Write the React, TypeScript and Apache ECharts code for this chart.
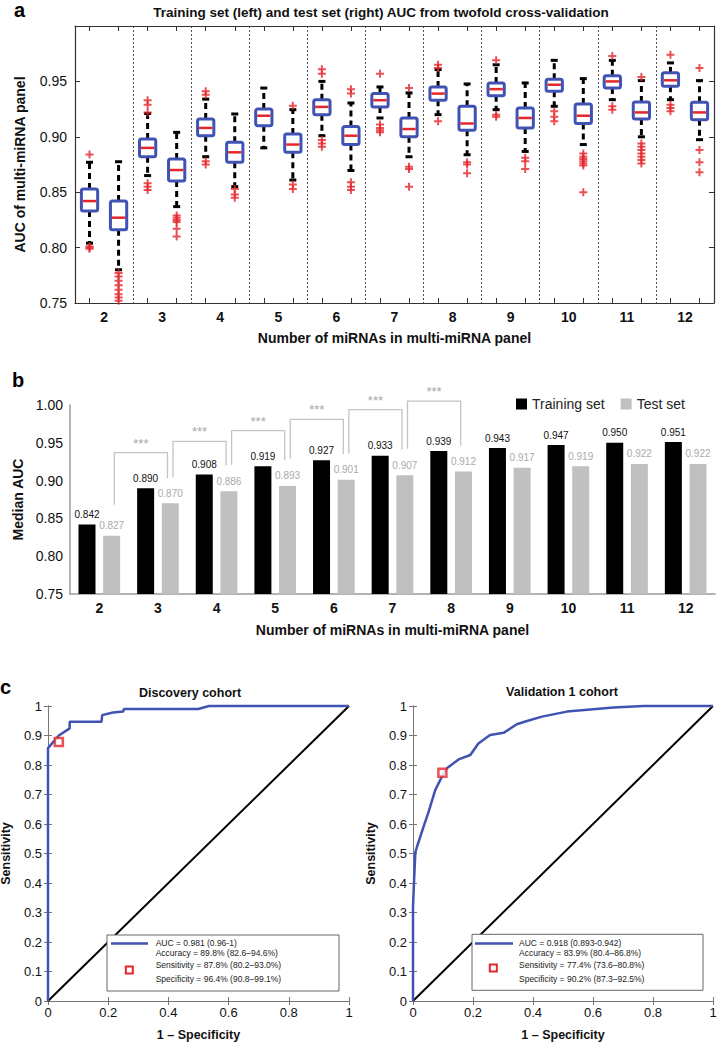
import React, { useEffect, useRef } from 'react';
import * as echarts from 'echarts';

const FONT = '"Liberation Sans", Arial, Helvetica, sans-serif';

// ---------- Panel a / b data ----------
const panelSizes = ['2', '3', '4', '5', '6', '7', '8', '9', '10', '11', '12'];
const trainMedians = [0.842, 0.890, 0.908, 0.919, 0.927, 0.933, 0.939, 0.943, 0.947, 0.950, 0.951];
const testMedians = [0.827, 0.870, 0.886, 0.893, 0.901, 0.907, 0.912, 0.917, 0.919, 0.922, 0.922];

// [lower whisker, Q1, Q3, upper whisker]
const trainBoxes = [
  [0.804, 0.833, 0.853, 0.877],
  [0.865, 0.882, 0.898, 0.921],
  [0.882, 0.901, 0.916, 0.934],
  [0.890, 0.910, 0.925, 0.944],
  [0.901, 0.920, 0.9335, 0.950],
  [0.917, 0.927, 0.939, 0.945],
  [0.920, 0.933, 0.945, 0.9607],
  [0.9245, 0.937, 0.9486, 0.965],
  [0.9275, 0.941, 0.952, 0.969],
  [0.9335, 0.944, 0.955, 0.969],
  [0.9335, 0.9456, 0.9577, 0.9667],
];
const testBoxes = [
  [0.780, 0.816, 0.842, 0.8775],
  [0.837, 0.860, 0.880, 0.904],
  [0.855, 0.877, 0.895, 0.9206],
  [0.861, 0.886, 0.9025, 0.9245],
  [0.8696, 0.893, 0.9094, 0.9305],
  [0.882, 0.900, 0.917, 0.9396],
  [0.8838, 0.9058, 0.9275, 0.9477],
  [0.8868, 0.908, 0.926, 0.9486],
  [0.893, 0.912, 0.9297, 0.9525],
  [0.900, 0.916, 0.9315, 0.9507],
  [0.8974, 0.9155, 0.9311, 0.9507],
];
const trainOutliers = [
  [0.884, 0.801, 0.800, 0.799],
  [0.933, 0.929, 0.922, 0.858, 0.855, 0.852],
  [0.941, 0.938, 0.878, 0.875],
  [],
  [0.961, 0.957, 0.897, 0.894, 0.891],
  [0.957, 0.911, 0.908, 0.906, 0.904],
  [0.965, 0.962, 0.914],
  [0.969, 0.920, 0.918],
  [0.923, 0.918, 0.914],
  [0.973, 0.9275, 0.9245],
  [0.974, 0.929, 0.926, 0.923],
];
const testOutliers = [
  [0.777, 0.774, 0.770, 0.766, 0.762, 0.758, 0.755, 0.752],
  [0.829, 0.827, 0.825, 0.823, 0.817, 0.810],
  [0.853, 0.848, 0.845],
  [0.928, 0.857, 0.853],
  [0.943, 0.939, 0.859, 0.855, 0.852],
  [0.944, 0.873, 0.871, 0.855],
  [0.877, 0.875, 0.867],
  [0.881, 0.878, 0.871],
  [0.885, 0.882, 0.880, 0.878, 0.876, 0.874, 0.850],
  [0.954, 0.894, 0.891, 0.888, 0.885, 0.882, 0.879, 0.876],
  [0.962, 0.888, 0.877, 0.868],
];

// significance brackets (panel b): between test bars of consecutive panel sizes
const bracketLeft = [0, 1, 2, 3, 4, 5];
const bracketRight = [1, 2, 3, 4, 5, 6];
const bracketTops = [0.937, 0.952, 0.966, 0.981, 0.994, 1.005];
const bracketLeftEnds = [0.868, 0.904, 0.921, 0.929, 0.936, 0.942];
const bracketRightEnds = [0.903, 0.920, 0.927, 0.935, 0.941, 0.946];

// ---------- Panel c data ----------
const discoveryROC = [
  [0, 0], [0, 0.857], [0.036, 0.9], [0.072, 0.924], [0.072, 0.947], [0.178, 0.947],
  [0.18, 0.969], [0.216, 0.978], [0.25, 0.981], [0.252, 0.99], [0.499, 0.99], [0.535, 1.0], [1, 1],
];
const validationROC = [
  [0, 0], [0, 0.319], [0.004, 0.42], [0.008, 0.505], [0.015, 0.528], [0.035, 0.59],
  [0.052, 0.641], [0.074, 0.715], [0.097, 0.762], [0.113, 0.789], [0.152, 0.819],
  [0.191, 0.834], [0.218, 0.873], [0.257, 0.902], [0.302, 0.909], [0.346, 0.938],
  [0.38, 0.949], [0.43, 0.964], [0.513, 0.981], [0.601, 0.989], [0.668, 0.995],
  [0.768, 1.0], [1, 1],
];
const diagonal = [[0, 0], [1, 1]];
const discoveryPoint = [0.036, 0.878];
const validationPoint = [0.098, 0.774];
const discoveryLegend = [
  'AUC = 0.981 (0.96-1)',
  'Accuracy = 89.8% (82.6–94.6%)',
  'Sensitivity = 87.8% (80.2–93.0%)',
  'Specificity = 96.4% (90.8–99.1%)',
];
const validationLegend = [
  'AUC = 0.918 (0.893-0.942)',
  'Accuracy = 83.9% (80.4–86.8%)',
  'Sensitivity = 77.4% (73.6–80.8%)',
  'Specificity = 90.2% (87.3–92.5%)',
];

const BLUE = '#4053b3';
const RED = '#e5262a';
const GREY_BAR = '#c0c0c0';

function buildOption(): any {
  const boxCats: string[] = [];
  panelSizes.forEach((p) => { boxCats.push(p + ' train'); boxCats.push(p + ' test'); });

  const boxData: number[][] = [];
  const outlierData: number[][] = [];
  panelSizes.forEach((_, i) => {
    const t = trainBoxes[i];
    const s = testBoxes[i];
    boxData.push([2 * i, t[0], t[1], trainMedians[i], t[2], t[3]]);
    boxData.push([2 * i + 1, s[0], s[1], testMedians[i], s[2], s[3]]);
    trainOutliers[i].forEach((v) => outlierData.push([2 * i, v]));
    testOutliers[i].forEach((v) => outlierData.push([2 * i + 1, v]));
  });

  const bracketData = bracketLeft.map((l, i) => [l, bracketRight[i], bracketTops[i], bracketLeftEnds[i], bracketRightEnds[i]]);

  const frameA = '#333';
  const frameC = '#777';
  const tickLabel = { fontFamily: FONT, color: '#111' };

  const legendGraphics = (x0: number, y0: number, w: number, h: number, lineX: number[], markX: number, markY: number, textX: number, lines: string[]) => {
    const ys = [943.3, 953.3, 965.3, 979];
    const els: any[] = [
      { type: 'rect', z: 100, shape: { x: x0, y: y0, width: w, height: h }, style: { fill: '#fff', stroke: '#666', lineWidth: 1 } },
      { type: 'line', z: 101, shape: { x1: lineX[0], y1: 943.5, x2: lineX[1], y2: 943.5 }, style: { stroke: BLUE, lineWidth: 2.5 } },
      { type: 'rect', z: 101, shape: { x: markX - 3.5, y: markY - 3.5, width: 7, height: 7 }, style: { fill: '#fff', stroke: RED, lineWidth: 2 } },
    ];
    lines.forEach((t, k) => {
      els.push({ type: 'text', z: 101, x: textX, y: ys[k], style: { text: t, fontFamily: FONT, fontSize: 8.5, fill: '#222', textVerticalAlign: 'middle', verticalAlign: 'middle' } });
    });
    return els;
  };

  return {
    animation: false,
    backgroundColor: '#fff',
    textStyle: { fontFamily: FONT },
    grid: [
      { left: 75, top: 26, width: 639, height: 277, outerBoundsMode: 'none', containLabel: false },
      { left: 70, top: 405, width: 645, height: 189, outerBoundsMode: 'none', containLabel: false },
      { left: 48, top: 706, width: 301, height: 295, outerBoundsMode: 'none', containLabel: false },
      { left: 413, top: 706, width: 300, height: 295, outerBoundsMode: 'none', containLabel: false },
    ],
    legend: {
      data: ['Training set', 'Test set'],
      left: 511, top: 392, icon: 'rect', itemWidth: 11, itemHeight: 11, itemGap: 16,
      textStyle: { fontFamily: FONT, fontSize: 14, color: '#222' },
      selectedMode: false,
    },
    xAxis: [
      {
        type: 'category', gridIndex: 0, data: boxCats, position: 'bottom', boundaryGap: true,
        axisLine: { show: true, lineStyle: { color: frameA, width: 1.2 } },
        axisTick: { show: true, inside: true, alignWithLabel: true, interval: 0, length: 5, lineStyle: { color: frameA } },
        axisLabel: { show: false }, splitLine: { show: false },
      },
      {
        type: 'category', gridIndex: 0, data: panelSizes, position: 'bottom', boundaryGap: true,
        axisLine: { show: false }, axisTick: { show: false },
        axisLabel: { show: true, margin: 7, fontSize: 14, fontWeight: 'bold', ...tickLabel },
        splitLine: { show: true, interval: 0, lineStyle: { color: '#222', width: 0.8, type: [2, 2] } },
        name: 'Number of miRNAs in multi-miRNA panel', nameLocation: 'middle', nameGap: 28,
        nameTextStyle: { fontFamily: FONT, fontSize: 14, fontWeight: 'bold', color: '#111' },
      },
      {
        type: 'category', gridIndex: 0, data: boxCats, position: 'top', boundaryGap: true,
        axisLine: { show: true, lineStyle: { color: frameA, width: 1.2 } },
        axisTick: { show: true, inside: true, alignWithLabel: true, interval: 0, length: 5, lineStyle: { color: frameA } },
        axisLabel: { show: false }, splitLine: { show: false },
      },
      {
        type: 'category', gridIndex: 1, data: panelSizes, position: 'bottom', boundaryGap: true,
        axisLine: { show: true, lineStyle: { color: '#9a9a9a', width: 1.5 } },
        axisTick: { show: false },
        axisLabel: { show: true, margin: 7, fontSize: 14, fontWeight: 'bold', ...tickLabel },
        name: 'Number of miRNAs in multi-miRNA panel', nameLocation: 'middle', nameGap: 29,
        nameTextStyle: { fontFamily: FONT, fontSize: 14, fontWeight: 'bold', color: '#111' },
      },
      {
        type: 'value', gridIndex: 2, min: 0, max: 1, interval: 0.2, position: 'bottom',
        axisLine: { show: true, lineStyle: { color: frameC, width: 1 } },
        axisTick: { show: true, inside: true, length: 4, lineStyle: { color: frameC } },
        axisLabel: { show: true, margin: 5, fontSize: 13, ...tickLabel },
        splitLine: { show: false },
        name: '1 – Specificity', nameLocation: 'middle', nameGap: 27,
        nameTextStyle: { fontFamily: FONT, fontSize: 12.5, fontWeight: 'bold', color: '#111' },
      },
      {
        type: 'value', gridIndex: 2, min: 0, max: 1, interval: 0.2, position: 'top',
        axisLine: { show: true, lineStyle: { color: frameC, width: 1 } },
        axisTick: { show: true, inside: true, length: 4, lineStyle: { color: frameC } },
        axisLabel: { show: false }, splitLine: { show: false },
      },
      {
        type: 'value', gridIndex: 3, min: 0, max: 1, interval: 0.2, position: 'bottom',
        axisLine: { show: true, lineStyle: { color: frameC, width: 1 } },
        axisTick: { show: true, inside: true, length: 4, lineStyle: { color: frameC } },
        axisLabel: { show: true, margin: 5, fontSize: 13, ...tickLabel },
        splitLine: { show: false },
        name: '1 – Specificity', nameLocation: 'middle', nameGap: 27,
        nameTextStyle: { fontFamily: FONT, fontSize: 12.5, fontWeight: 'bold', color: '#111' },
      },
      {
        type: 'value', gridIndex: 3, min: 0, max: 1, interval: 0.2, position: 'top',
        axisLine: { show: true, lineStyle: { color: frameC, width: 1 } },
        axisTick: { show: true, inside: true, length: 4, lineStyle: { color: frameC } },
        axisLabel: { show: false }, splitLine: { show: false },
      },
    ],
    yAxis: [
      {
        type: 'value', gridIndex: 0, min: 0.75, max: 1.0, interval: 0.05, position: 'left',
        axisLine: { show: true, lineStyle: { color: frameA, width: 1.2 } },
        axisTick: { show: true, inside: true, length: 5, lineStyle: { color: frameA } },
        axisLabel: { show: true, margin: 8, fontSize: 14, ...tickLabel, formatter: (v: number) => (v > 0.99 ? '' : v.toFixed(2)) },
        splitLine: { show: false },
        name: 'AUC of multi-miRNA panel', nameLocation: 'middle', nameGap: 48,
        nameTextStyle: { fontFamily: FONT, fontSize: 14, fontWeight: 'bold', color: '#111' },
      },
      {
        type: 'value', gridIndex: 0, min: 0.75, max: 1.0, interval: 0.05, position: 'right',
        axisLine: { show: true, lineStyle: { color: frameA, width: 1.2 } },
        axisTick: { show: true, inside: true, length: 5, lineStyle: { color: frameA } },
        axisLabel: { show: false }, splitLine: { show: false },
      },
      {
        type: 'value', gridIndex: 1, min: 0.75, max: 1.0, interval: 0.05, position: 'left',
        axisLine: { show: true, lineStyle: { color: '#9a9a9a', width: 1.5 } },
        axisTick: { show: false },
        axisLabel: { show: true, margin: 7, fontSize: 14, ...tickLabel, formatter: (v: number) => v.toFixed(2) },
        splitLine: { show: false },
        name: 'Median AUC', nameLocation: 'middle', nameGap: 44,
        nameTextStyle: { fontFamily: FONT, fontSize: 14, fontWeight: 'bold', color: '#111' },
      },
      {
        type: 'value', gridIndex: 2, min: 0, max: 1, interval: 0.1, position: 'left',
        axisLine: { show: true, lineStyle: { color: frameC, width: 1 } },
        axisTick: { show: true, inside: true, length: 4, lineStyle: { color: frameC } },
        axisLabel: { show: true, margin: 6, fontSize: 13, ...tickLabel },
        splitLine: { show: false },
        name: 'Sensitivity', nameLocation: 'middle', nameGap: 36,
        nameTextStyle: { fontFamily: FONT, fontSize: 12.5, fontWeight: 'bold', color: '#111' },
      },
      {
        type: 'value', gridIndex: 2, min: 0, max: 1, interval: 0.1, position: 'right',
        axisLine: { show: true, lineStyle: { color: frameC, width: 1 } },
        axisTick: { show: true, inside: true, length: 4, lineStyle: { color: frameC } },
        axisLabel: { show: false }, splitLine: { show: false },
      },
      {
        type: 'value', gridIndex: 3, min: 0, max: 1, interval: 0.1, position: 'left',
        axisLine: { show: true, lineStyle: { color: frameC, width: 1 } },
        axisTick: { show: true, inside: true, length: 4, lineStyle: { color: frameC } },
        axisLabel: { show: true, margin: 6, fontSize: 13, ...tickLabel },
        splitLine: { show: false },
        name: 'Sensitivity', nameLocation: 'middle', nameGap: 36,
        nameTextStyle: { fontFamily: FONT, fontSize: 12.5, fontWeight: 'bold', color: '#111' },
      },
      {
        type: 'value', gridIndex: 3, min: 0, max: 1, interval: 0.1, position: 'right',
        axisLine: { show: true, lineStyle: { color: frameC, width: 1 } },
        axisTick: { show: true, inside: true, length: 4, lineStyle: { color: frameC } },
        axisLabel: { show: false }, splitLine: { show: false },
      },
    ],
    graphic: [
      { type: 'text', left: 14, top: 0, style: { text: 'a', fontFamily: FONT, fontSize: 20, fontWeight: 'bold', fill: '#000' } },
      { type: 'text', left: 12, top: 370, style: { text: 'b', fontFamily: FONT, fontSize: 20, fontWeight: 'bold', fill: '#000' } },
      { type: 'text', left: 0, top: 677, style: { text: 'c', fontFamily: FONT, fontSize: 20, fontWeight: 'bold', fill: '#000' } },
      { type: 'text', x: 381, y: 12, style: { text: 'Training set (left) and test set (right) AUC from twofold cross-validation', fontFamily: FONT, fontSize: 13.5, fontWeight: 'bold', fill: '#111', align: 'center', verticalAlign: 'middle', textAlign: 'center', textVerticalAlign: 'middle' } },
      { type: 'text', x: 190, y: 693, style: { text: 'Discovery cohort', fontFamily: FONT, fontSize: 12.5, fontWeight: 'bold', fill: '#111', align: 'center', verticalAlign: 'middle', textAlign: 'center', textVerticalAlign: 'middle' } },
      { type: 'text', x: 562, y: 692, style: { text: 'Validation 1 cohort', fontFamily: FONT, fontSize: 12.5, fontWeight: 'bold', fill: '#111', align: 'center', verticalAlign: 'middle', textAlign: 'center', textVerticalAlign: 'middle' } },
      ...legendGraphics(107, 935, 232, 56, [111, 148], 129.3, 970, 155.7, discoveryLegend),
      ...legendGraphics(472, 934.3, 231, 56, [475, 513], 493.3, 968, 519, validationLegend),
    ],
    series: [
      {
        type: 'custom', name: 'boxes', xAxisIndex: 0, yAxisIndex: 0, z: 3,
        encode: { x: 0, y: [1, 2, 3, 4, 5] },
        data: boxData,
        renderItem: (_p: any, api: any) => {
          const x = api.value(0);
          const lo = api.coord([x, api.value(1)]);
          const q1 = api.coord([x, api.value(2)]);
          const md = api.coord([x, api.value(3)]);
          const q3 = api.coord([x, api.value(4)]);
          const hi = api.coord([x, api.value(5)]);
          const cx = lo[0];
          const bw = api.size([1, 0])[0] * 0.56;
          const cw = 7;
          const dash = { stroke: '#000', lineWidth: 3, lineDash: [6, 4] };
          return {
            type: 'group',
            children: [
              { type: 'line', shape: { x1: cx, y1: q3[1], x2: cx, y2: hi[1] }, style: dash },
              { type: 'line', shape: { x1: cx, y1: q1[1], x2: cx, y2: lo[1] }, style: dash },
              { type: 'line', shape: { x1: cx - cw / 2, y1: hi[1], x2: cx + cw / 2, y2: hi[1] }, style: { stroke: '#000', lineWidth: 3 } },
              { type: 'line', shape: { x1: cx - cw / 2, y1: lo[1], x2: cx + cw / 2, y2: lo[1] }, style: { stroke: '#000', lineWidth: 3 } },
              { type: 'rect', shape: { x: cx - bw / 2, y: q3[1], width: bw, height: q1[1] - q3[1], r: 2 }, style: { fill: '#fff', stroke: BLUE, lineWidth: 3 } },
              { type: 'line', shape: { x1: cx - bw / 2 + 1.5, y1: md[1], x2: cx + bw / 2 - 1.5, y2: md[1] }, style: { stroke: RED, lineWidth: 2.5 } },
            ],
          };
        },
      },
      {
        type: 'scatter', name: 'outliers', xAxisIndex: 0, yAxisIndex: 0, z: 4,
        data: outlierData,
        symbol: 'path://M3,0H5V3H8V5H5V8H3V5H0V3H3Z',
        symbolSize: 8,
        itemStyle: { color: RED },
        clip: false,
      },
      {
        type: 'bar', name: 'Training set', xAxisIndex: 3, yAxisIndex: 2,
        data: trainMedians, barWidth: 17, barGap: '45%',
        itemStyle: { color: '#000' },
        label: { show: true, position: 'top', distance: 5, fontFamily: FONT, fontSize: 10, color: '#111', formatter: (p: any) => p.value.toFixed(3) },
      },
      {
        type: 'bar', name: 'Test set', xAxisIndex: 3, yAxisIndex: 2,
        data: testMedians, barWidth: 17,
        itemStyle: { color: GREY_BAR },
        label: { show: true, position: 'top', distance: 5, fontFamily: FONT, fontSize: 10, color: '#aaa', formatter: (p: any) => p.value.toFixed(3) },
      },
      {
        type: 'custom', name: 'brackets', xAxisIndex: 3, yAxisIndex: 2, z: 5, clip: false,
        encode: { x: [0, 1], y: [2, 3, 4] },
        data: bracketData,
        renderItem: (_p: any, api: any) => {
          const l = api.coord([api.value(0), api.value(2)]);
          const r = api.coord([api.value(1), api.value(2)]);
          const lb = api.coord([api.value(0), api.value(3)]);
          const rb = api.coord([api.value(1), api.value(4)]);
          const lx = l[0] + 15;
          const rx = r[0] + 9.5;
          return {
            type: 'group',
            children: [
              { type: 'polyline', shape: { points: [[lx, lb[1]], [lx, l[1]], [rx, l[1]], [rx, rb[1]]] }, style: { stroke: '#c4c4c4', lineWidth: 1.3, fill: 'none' } },
              { type: 'text', x: (lx + rx) / 2, y: l[1] - 3, style: { text: '***', fontFamily: FONT, fontSize: 13, fill: '#a8a8a8', align: 'center', verticalAlign: 'bottom', textAlign: 'center', textVerticalAlign: 'bottom' } },
            ],
          };
        },
      },
      {
        type: 'line', name: 'diag1', xAxisIndex: 4, yAxisIndex: 3, data: diagonal, showSymbol: false,
        lineStyle: { color: '#000', width: 2 }, z: 2,
      },
      {
        type: 'line', name: 'Discovery ROC', xAxisIndex: 4, yAxisIndex: 3, data: discoveryROC, showSymbol: false,
        lineStyle: { color: BLUE, width: 2.5 }, z: 3, clip: false,
      },
      {
        type: 'scatter', name: 'Discovery point', xAxisIndex: 4, yAxisIndex: 3, data: [discoveryPoint],
        symbol: 'rect', symbolSize: 8, itemStyle: { color: '#fff', borderColor: RED, borderWidth: 2.5 }, z: 4,
      },
      {
        type: 'line', name: 'diag2', xAxisIndex: 6, yAxisIndex: 5, data: diagonal, showSymbol: false,
        lineStyle: { color: '#000', width: 2 }, z: 2,
      },
      {
        type: 'line', name: 'Validation ROC', xAxisIndex: 6, yAxisIndex: 5, data: validationROC, showSymbol: false,
        lineStyle: { color: BLUE, width: 2.5 }, z: 3, clip: false,
      },
      {
        type: 'scatter', name: 'Validation point', xAxisIndex: 6, yAxisIndex: 5, data: [validationPoint],
        symbol: 'rect', symbolSize: 8, itemStyle: { color: '#fff', borderColor: RED, borderWidth: 2.5 }, z: 4,
      },
    ],
  };
}

export default function App() {
  const ref = useRef<HTMLDivElement>(null);
  useEffect(() => {
    if (!ref.current) return;
    const chart = echarts.init(ref.current, undefined, { renderer: 'svg' });
    chart.setOption(buildOption());
    return () => chart.dispose();
  }, []);
  return (
    <div
      ref={ref}
      style={{ position: 'absolute', left: 0, top: 0, width: 719, height: 1042, background: '#fff' }}
    />
  );
}
